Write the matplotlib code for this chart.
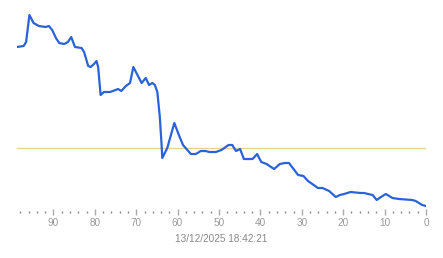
import numpy as np
import matplotlib
matplotlib.use('Agg')
import matplotlib.pyplot as plt
from matplotlib.ticker import MultipleLocator

plt.rcParams['font.family'] = ['Liberation Sans', 'DejaVu Sans']

# series (x = samples ago, y = level, arbitrary units)
x = [98.8, 97.2, 96.6, 95.8, 94.8, 93.5, 91.9, 91.1, 90.3, 89.4, 88.6, 87.4,
     86.5, 85.7, 84.8, 83.2, 82.6, 81.6, 81.0, 80.2, 79.6, 79.2, 78.6, 77.8,
     76.3, 75.0, 74.4, 73.6, 72.5, 71.5, 70.7, 69.7, 68.7, 67.7, 66.9, 66.1,
     65.5, 64.9, 64.3, 63.9, 63.7, 62.5, 60.8, 59.7, 58.7, 56.8, 55.6, 54.4,
     53.2, 52.4, 50.8, 49.4, 47.7, 46.8, 45.9, 44.9, 44.0, 41.9, 40.8, 39.8,
     38.5, 36.7, 35.3, 34.1, 33.1, 30.9, 29.6, 28.5, 26.1, 25.0, 23.4, 21.8,
     20.8, 19.8, 18.2, 15.8, 15.0, 12.9, 11.9, 10.9, 9.7, 8.1, 6.5, 3.3,
     2.5, 0.9, 0.0]
y = [211, 212, 216, 243, 235, 232, 231, 232, 228, 220, 215, 214,
     216, 221, 211, 210, 206, 192, 191, 194, 197, 191, 163, 166,
     166, 168, 169, 167, 172, 175, 191, 183, 175, 180, 173, 175,
     173, 166, 141, 115, 100, 110, 135, 123, 113, 104, 104, 107,
     107, 106, 106, 108, 113, 113, 107, 109, 99, 99, 104, 96,
     94, 89, 94, 95, 95, 83, 82, 77, 70, 70, 67, 61,
     63, 64, 66, 65, 65, 63, 58, 61, 64, 60, 59, 58,
     57, 53, 52]
ref_level = 110
xlabel = '13/12/2025 18:42:21'

fig = plt.figure(figsize=(4.43, 2.58), dpi=100)
ax = fig.add_axes([17/443, 46/258, 409/443, 202/258])

ax.axhline(ref_level, color='#e8d48a', lw=1.0, zorder=1)
ax.plot(x, y, color='#2a62d9', lw=1.6, zorder=2, solid_joinstyle='round')

ax.set_xlim(98.8, 0)
ax.set_ylim(46, 248)

for s in ax.spines.values():
    s.set_visible(False)
ax.set_yticks([])

ax.xaxis.set_major_locator(MultipleLocator(10))
ax.xaxis.set_minor_locator(MultipleLocator(2))
ax.tick_params(axis='x', which='major', direction='inout', length=5, width=1.0,
               color='#aaaaaa', labelcolor='#999999', labelsize=7.2, pad=2)
ax.tick_params(axis='x', which='minor', direction='inout', length=1.0, width=1.0,
               color='#888888')
ax.set_xlabel(xlabel, fontsize=7.2, color='#888888', labelpad=4)

fig.savefig('out.png', dpi=100)
